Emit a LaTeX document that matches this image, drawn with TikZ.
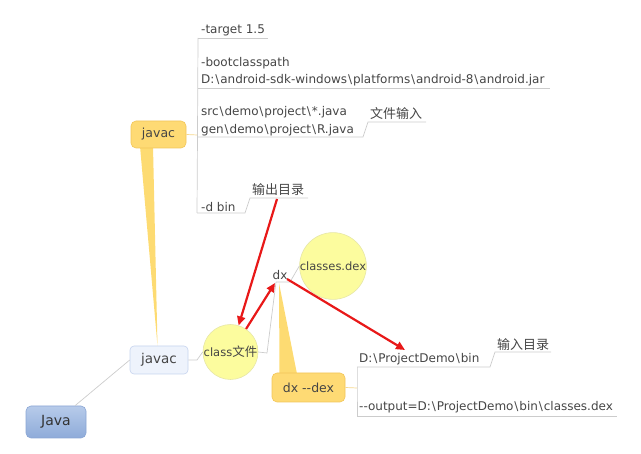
\documentclass[tikz,border=0pt]{standalone}
\usepackage{fontspec}
\setmainfont{DejaVu Sans}
\newfontfamily\cjk{Noto Sans CJK SC}
\usetikzlibrary{arrows.meta,calc}
\newcommand{\bsl}{\hspace{0.9pt}\textbackslash\hspace{0.9pt}}
\definecolor{txt}{HTML}{454545}
\definecolor{gline}{HTML}{CCCCCC}
\definecolor{redarr}{HTML}{E81818}
\definecolor{yel}{HTML}{FEDA74}
\definecolor{yelb}{HTML}{F2C65A}
\definecolor{tail}{HTML}{FDDB72}
\definecolor{circ}{HTML}{FCFC9E}
\definecolor{circb}{HTML}{E6E6A8}
\definecolor{jtop}{HTML}{B7CBEA}
\definecolor{jbot}{HTML}{8EABD9}
\definecolor{jbord}{HTML}{8AA6D4}
\definecolor{lbfill}{HTML}{EEF3FC}
\definecolor{lbbord}{HTML}{C6D4EE}
\tikzset{
  x=1pt,y=-1pt,
  every node/.style={text=txt,font=\fontsize{12}{17.5}\selectfont,inner sep=0pt},
  lbl/.style={anchor=west,align=left},
  cjklbl/.style={anchor=west,font=\cjk\fontsize{13}{15}\selectfont},
  conn/.style={draw=gline,line width=0.7pt},
  calloutbox/.style={draw=yelb,fill=yel,rounded corners=5pt,line width=0.6pt},
  circnode/.style={circle,draw=circb,fill=circ,line width=0.6pt},
  redarrow/.style={draw=redarr,line width=2.2pt,-{Triangle[length=9pt,width=8pt]}}
}
\begin{document}
\begin{tikzpicture}
\useasboundingbox (0,0) rectangle (641,454);
% callout tails
\fill[tail] (140,146) -- (153,146) -- (157.5,346) -- cycle;
\fill[tail] (279.5,374) -- (297,374) -- (279,283) -- cycle;

% main nodes
\node[draw=jbord,top color=jtop,bottom color=jbot,rounded corners=5pt,minimum width=60,minimum height=32,line width=0.6pt,font=\fontsize{14}{16}\selectfont,text=black!80] (java) at (56,422) {Java};
\node[draw=lbbord,fill=lbfill,rounded corners=4pt,minimum width=58,minimum height=28,line width=0.6pt,font=\fontsize{13.5}{15}\selectfont] (javacA) at (159,360) {javac};
\node[calloutbox,minimum width=55,minimum height=27,font=\fontsize{12.5}{14}\selectfont] (javacB) at (158.5,134.5) {javac};
\node[circnode,minimum size=55,font=\fontsize{11.5}{13}\selectfont] (classf) at (230.5,352) {class{\cjk\fontsize{12.5}{13}\selectfont 文件}};
\node[circnode,minimum size=63,font=\fontsize{11.5}{13}\selectfont] (cdex) at (333,266) {classes.dex};
\node (dx) at (280,275) {dx};
\node[calloutbox,minimum width=73,minimum height=29,font=\fontsize{12.5}{14}\selectfont] (dxdex) at (308.5,387.5) {dx -{}-dex};

% branch texts of javac
\node[lbl] (t1) at (201,30.5) {-target 1.5};
\node[lbl] (t2) at (201,71.5) {-bootclasspath\\D:\bsl android-sdk-windows\bsl platforms\bsl android-8\bsl android.jar};
\node[lbl] (t3) at (201,121) {src\bsl demo\bsl project\bsl *.java\\gen\bsl demo\bsl project\bsl R.java};
\node[lbl] (t4) at (201,207) {-d bin};
\node[cjklbl] (l1) at (370,114) {文件输入};
\node[cjklbl] (l2) at (252,190) {输出目录};

% branch texts of dx --dex
\node[lbl] (t5) at (359,359) {D:\bsl ProjectDemo\bsl bin};
\node[lbl] (t6) at (359,407) {-{}-output=D:\bsl ProjectDemo\bsl bin\bsl classes.dex};
\node[cjklbl] (l3) at (497,345) {输入目录};

% coordinates for underlines
\coordinate (b0) at (197.5,135);
\coordinate (u1) at (198,38);
\coordinate (u4) at (197,213);
\coordinate (d0) at (357,388);
\coordinate (v5) at (357,367);
\coordinate (v6) at (357,416);
\coordinate (dxu) at (290,282);
\coordinate (dxl) at (276,282);

% grey connectors
\draw[conn] ($(java.north)+(19,0)$) -- (javacA.west);
\draw[conn] (javacA.east) -- (197,360) -- (classf.west);
\draw[conn] (classf.east) -- (267,353) -- (dxl);
\draw[conn] (dxl) -- (dxu) -- (cdex.west);
\draw[draw=yelb!70,line width=0.7pt] (javacB.east) -- (b0);
\draw[conn] (u1) -- (b0) -- (u4);
\draw[conn] (u1) -- (268,38);
\draw[conn] (198,88) -- (550,88);
\draw[conn] (198,137) -- (363,137) -- (368,122) -- (426,122);
\draw[conn] (u4) -- (245,213) -- (250,198) -- (308,198);
\draw[draw=yelb!70,line width=0.7pt] (dxdex.east) -- (d0);
\draw[conn] (v5) -- (d0) -- (v6);
\draw[conn] (v5) -- (490,367) -- (495,352) -- (551,352);
\draw[conn] (v6) -- (617,416);

% red arrows
\coordinate (r1s) at (277,199);
\coordinate (dxin) at (275,283);
\coordinate (dxout) at (287,279);
\coordinate (pdin) at (405,350);
\draw[redarrow] (r1s) -- (classf.73);
\draw[redarrow] (classf.56) -- (dxin);
\draw[redarrow] (dxout) -- (pdin);
\end{tikzpicture}
\end{document}
